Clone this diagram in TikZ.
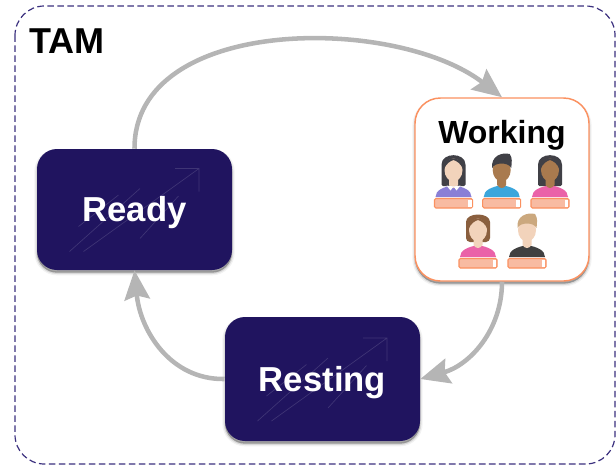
\documentclass[tikz,border=0pt]{standalone}
\usepackage{fontspec}
\setmainfont{Liberation Sans}
\usetikzlibrary{arrows.meta,shadows}
\definecolor{navy}{HTML}{20145F}
\definecolor{framecol}{HTML}{3A2F7E}
\definecolor{edgecol}{HTML}{B5B5B5}
\definecolor{orangecol}{HTML}{FB9160}
\definecolor{barcol}{HTML}{F8BBA2}
\definecolor{skinlight}{HTML}{F2D3BB}
\definecolor{skindark}{HTML}{A97A4E}
\definecolor{hairdark}{HTML}{404046}
\definecolor{hairbrown}{HTML}{8A5F3E}
\definecolor{hairblond}{HTML}{CBA87E}
\definecolor{shirtpurple}{HTML}{8A7FD6}
\definecolor{shirtblue}{HTML}{3BA6DC}
\definecolor{shirtpink}{HTML}{EA62A8}
\definecolor{shirtdark}{HTML}{404040}
\tikzset{
softshadow/.style={
  drop shadow={shadow xshift=0pt,shadow yshift=-2pt,opacity=.05,fill=black,draw=black,line width=4pt},
  drop shadow={shadow xshift=0pt,shadow yshift=-2pt,opacity=.1,fill=black,draw=black,line width=2pt},
  drop shadow={shadow xshift=0pt,shadow yshift=-2pt,opacity=.2,fill=black}},
statebox/.style={draw=none,fill=navy,rounded corners=15pt,text=white,softshadow,font=\bfseries\fontsize{26}{26}\selectfont,
  text height=18.6pt,text depth=0pt,inner sep=0pt,minimum width=146.25pt},
loopedge/.style={draw=edgecol,line width=3.4pt,->},
namebar/.style={draw=orangecol,fill=barcol,line width=.8pt,rounded corners=1pt},
}
% faint rising lines on a dark box
\newcommand{\riselines}[1]{
\draw[shift={(#1.center)},white,opacity=.14,line width=.5pt]
  (-51,42)--(64.5,-41) (40.5,-41)--(64.5,-41)--(64.5,-18)
  (-65,42)--(5.5,-21) (-56,17)--(-16,-14.5) (5.5,29)--(44,-13.5);}
% people inside the working box: x, y, skin, shirt, hair behind, hair in front
\newcommand{\person}[6]{
\begin{scope}[shift={(#1,#2)}]
#5
\fill[#4] (-18,42) .. controls (-18,35) and (-10,32) .. (0,30) .. controls (10,32) and (18,35) .. (18,42) -- cycle;
\fill[#3] (-4.5,22) -- (4.5,22) -- (4.5,30) .. controls (2,34) and (-2,34) .. (-4.5,30) -- cycle;
\fill[#3] (0,15) ellipse [x radius=9,y radius=11.5];
#6
\draw[namebar] (-19,43.5) rectangle (19,53);
\fill[white] (14.5,44.5) rectangle (18,52);
\end{scope}}
\newcommand{\hairlong}[1]{\fill[#1,rounded corners=1pt] (-12,31) -- (-12,11) .. controls (-12,-3) and (12,-3) .. (12,11) -- (12,31) -- cycle;}
\newcommand{\fringe}[1]{\fill[#1] (-9.5,14) .. controls (-10,0) and (10,0) .. (9.5,14) .. controls (7,8) and (3,6) .. (0,5) .. controls (-3,6) and (-7,8) .. (-9.5,14) -- cycle;}
\newcommand{\hairbob}[1]{\fill[#1,rounded corners=3pt] (-12,27) -- (-12,11) .. controls (-12,-3) and (12,-3) .. (12,11) -- (12,27) -- cycle;}
\newcommand{\hairshort}[1]{\fill[#1] (-9.5,13) .. controls (-11,1) and (0,-3) .. (8,-1) .. controls (11,3) and (10,8) .. (9.5,13) .. controls (7,7) and (-7,7) .. (-9.5,13) -- cycle;}
\begin{document}
\begin{tikzpicture}
[x=.75pt,y=-.75pt,>={Stealth[length=22pt,width=19pt,inset=3pt]}]
\useasboundingbox (0,0) rectangle (616,465);

\draw [framecol,line width=.9pt,dash pattern=on 4.9pt off 2.6pt,rounded corners=22pt] (15,6) rectangle (615,464);
\node (tam) at (67,41)[font=\bfseries\fontsize{27}{27}\selectfont,inner sep=0pt]{TAM};

\node (Ready) at (134.5,209.5)[statebox,minimum height=90.75pt]{Ready};
\node (Resting) at (322.5,379)[statebox,minimum height=93pt]{Resting};
\riselines{Ready}
\riselines{Resting}
\node (Working) at (502,189.5)[draw=orangecol,line width=1.1pt,fill=white,rounded corners=19pt,softshadow,
  minimum width=130.5pt,minimum height=137.25pt,inner sep=0pt]{};
\node (worktitle) at (502,132)[font=\bfseries\fontsize{24}{24}\selectfont,text height=17.2pt,text depth=0pt,inner sep=0pt]{Working};

\person{453.5}{155}{skinlight}{shirtpurple}{\hairlong{hairdark}}{\fringe{hairdark}\fill[white] (-7,30.5) -- (0,31.5) -- (-3,35.5) -- cycle (7,30.5) -- (0,31.5) -- (3,35.5) -- cycle;}
\person{501.7}{155}{skindark}{shirtblue}{}{\hairshort{hairdark}}
\person{550}{155}{skindark}{shirtpink}{\hairlong{hairdark}}{\fringe{hairdark}}
\person{478}{215}{skinlight}{shirtpink}{\hairbob{hairbrown}}{\fringe{hairbrown}}
\person{527}{215}{skinlight}{shirtdark}{}{\hairshort{hairblond}}

\draw [loopedge] (Ready.north) .. controls (134,15) and (395,15) .. (Working.north);
\draw [loopedge] (Working.south) .. controls (502,330) and (470,365) .. (Resting.east);
\draw [loopedge] (Resting.west) .. controls (170,380) and (140,330) .. (Ready.south);

\end{tikzpicture}
\end{document}
